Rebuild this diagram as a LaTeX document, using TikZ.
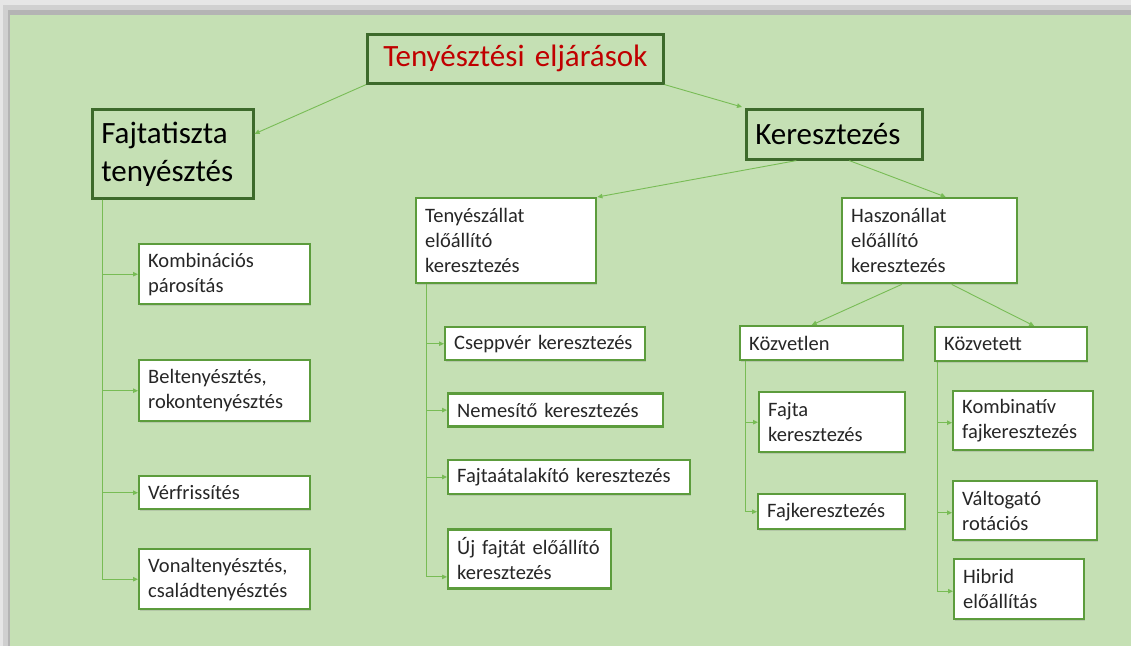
\documentclass[tikz,border=0pt]{standalone}
\usepackage{fontspec}
\setmainfont{Carlito}
\usepackage{tikz}
\usetikzlibrary{arrows.meta,positioning,shadows}
\definecolor{panel}{HTML}{C5E0B4}
\definecolor{frameA}{HTML}{E6E6E6}
\definecolor{frameB}{HTML}{D0D0D0}
\definecolor{frameC}{HTML}{B4B4B4}
\definecolor{darkgreen}{HTML}{3D6A2B}
\definecolor{midgreen}{HTML}{5C9C3C}
\definecolor{linegreen}{HTML}{78BC55}
\definecolor{titlered}{HTML}{C00000}
\definecolor{leaftext}{HTML}{262626}

\begin{document}
\begin{tikzpicture}[
  x=1pt,y=-1pt,
  big/.style={draw=darkgreen,fill=panel,line width=2.6pt,align=left,anchor=north west,inner xsep=9pt,inner ysep=2pt,
    drop shadow={opacity=0.35,shadow xshift=1.2pt,shadow yshift=-1.5pt},font=\fontsize{31}{38}\selectfont},
  leaf/.style={draw=midgreen,fill=white,line width=2.4pt,align=left,anchor=north west,inner xsep=9pt,inner ysep=2pt,text=leaftext,
    drop shadow={opacity=0.25,shadow xshift=1.2pt,shadow yshift=-1.5pt},font=\fontsize{20.5}{25}\selectfont},
  arr/.style={-{Triangle[length=5pt,width=4.5pt]},draw=linegreen,line width=0.9pt}
]
\useasboundingbox (0,0) rectangle (1131,646);
% frame and panel
\fill[frameA] (0,0) rectangle (1131,646);
\fill[frameB] (3,5) rectangle (1131,646);
\fill[frameC] (8,10) rectangle (1131,646);
\fill[panel] (10,15) rectangle (1131,646);

% top levels
\node[big,text=titlered,align=center,text width=278pt,minimum height=49pt] (root) at (366,33) {Tenyésztési eljárások};
\node[big,text width=143pt,minimum height=89pt] (fajta) at (91,108) {Fajtatiszta\\tenyésztés};
\node[big,text width=158pt,minimum height=50pt] (kereszt) at (745,108) {Keresztezés};

% fajtatiszta branch
\node[leaf,text width=153pt,minimum height=60pt] (kombi) at (138,243) {Kombinációs\\párosítás};
\node[leaf,text width=153pt,minimum height=61pt] (belt) at (138,359) {Beltenyésztés,\\rokontenyésztés};
\node[leaf,text width=153pt,minimum height=33pt] (verf) at (138,475) {Vérfrissítés};
\node[leaf,text width=153pt,minimum height=60pt] (vonal) at (138,548) {Vonaltenyésztés,\\családtenyésztés};

% keresztezés branch
\node[leaf,text width=162pt,minimum height=85pt] (ten) at (415,197) {Tenyészállat\\előállító\\keresztezés};
\node[leaf,text width=157pt,minimum height=85pt] (haszon) at (841,197) {Haszonállat\\előállító\\keresztezés};

\node[leaf,text width=182pt,minimum height=33pt] (csepp) at (444,326) {Cseppvér keresztezés};
\node[leaf,text width=197pt,minimum height=33pt,below=31pt of csepp.south west,anchor=north west,xshift=3pt] (nemes) {Nemesítő keresztezés};
\node[leaf,text width=224pt,minimum height=34pt,below=31pt of nemes.south west,anchor=north west] (atalak) {Fajtaátalakító keresztezés};
\node[leaf,text width=145pt,minimum height=59pt,below=33pt of atalak.south west,anchor=north west] (uj) {Új fajtát előállító\\keresztezés};

\node[leaf,text width=145pt,minimum height=34pt] (kozvetlen) at (739,325) {Közvetlen};
\node[leaf,text width=134pt,minimum height=34pt] (kozvetett) at (934,326) {Közvetett};

\node[leaf,text width=128pt,minimum height=60pt] (fajtak) at (758,391) {Fajta\\keresztezés};
\node[leaf,text width=129pt,minimum height=35pt] (fajker) at (757,493) {Fajkeresztezés};

\node[leaf,text width=122pt,minimum height=59pt] (kombin) at (952,390) {Kombinatív\\fajkeresztezés};
\node[leaf,text width=126pt,minimum height=59pt] (valt) at (952,480) {Váltogató\\rotációs};
\node[leaf,text width=112pt,minimum height=60pt] (hibrid) at (953,558) {Hibrid\\előállítás};

% connectors
\draw[arr] (root.south west) -- ([yshift=20pt]fajta.east);
\draw[arr] (root.south east) -- ([xshift=-3pt,yshift=1pt]kereszt.north west);
\draw[arr] ([xshift=-38pt]kereszt.south) -- (ten.north east);
\draw[arr] ([xshift=15pt]kereszt.south) -- ([xshift=16pt]haszon.north);
\draw[arr] ([xshift=-28pt]haszon.south) -- ([xshift=-10pt]kozvetlen.north);
\draw[arr] ([xshift=22pt]haszon.south) -- ([xshift=23pt]kozvetett.north);

% trees
\foreach \n in {kombi,belt,verf,vonal}
  \draw[arr] ([xshift=11pt]fajta.south west) |- (\n.west);
\foreach \n in {csepp,nemes,atalak}
  \draw[arr] ([xshift=11pt]ten.south west) |- (\n.west);
\draw[arr] ([xshift=11pt]ten.south west) |- ([yshift=-18pt]uj.west);
\foreach \n in {fajtak,fajker}
  \draw[arr] ([xshift=6pt]kozvetlen.south west) |- (\n.west);
\foreach \n in {kombin,valt,hibrid}
  \draw[arr] ([xshift=3pt]kozvetett.south west) |- ([yshift=-2pt]\n.west);
\end{tikzpicture}
\end{document}
